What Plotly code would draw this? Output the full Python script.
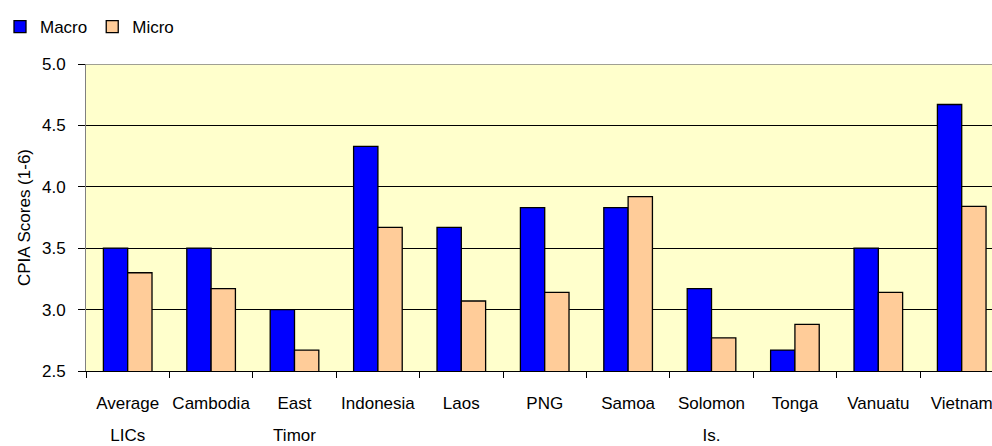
import plotly.graph_objects as go

categories = ["Average<br>LICs", "Cambodia", "East<br>Timor", "Indonesia", "Laos", "PNG",
              "Samoa", "Solomon<br>Is.", "Tonga", "Vanuatu", "Vietnam"]
macro = [3.50, 3.50, 3.00, 4.33, 3.67, 3.83, 3.83, 3.17, 2.67, 3.50, 4.67]
micro = [3.30, 3.17, 2.67, 3.67, 3.07, 3.14, 3.92, 2.77, 2.88, 3.14, 3.84]
y_ticks = [2.5, 3.0, 3.5, 4.0, 4.5, 5.0]

first_lines = [c.split("<br>")[0] for c in categories]
second_lines = [c.split("<br>")[1] if "<br>" in c else "" for c in categories]

FONT = "Arial, 'Liberation Sans', sans-serif"
XRANGE = [-0.5, 10.363]

fig = go.Figure()
fig.add_trace(go.Bar(name="Macro", x=first_lines, y=macro,
                     marker=dict(color="#0000FF", line=dict(color="#000000", width=1.3))))
fig.add_trace(go.Bar(name="Micro", x=first_lines, y=micro,
                     marker=dict(color="#FFCC99", line=dict(color="#000000", width=1.3))))
# empty helper trace so the second-line label axis is drawn
fig.add_trace(go.Scatter(x=[None], y=[None], xaxis="x2", yaxis="y", mode="markers",
                         showlegend=False, hoverinfo="skip"))

fig.update_layout(
    width=992, height=446,
    margin=dict(l=86, r=0, t=64, b=75, autoexpand=False),
    paper_bgcolor="white", plot_bgcolor="#FFFFCC",
    barmode="group", bargap=0.417, bargroupgap=0,
    font=dict(family=FONT, size=17, color="#000000"),
    showlegend=True,
    legend=dict(orientation="h", xref="container", yref="container",
                x=0.0, y=1 - 27 / 446, xanchor="left", yanchor="middle",
                font=dict(size=17), bgcolor="rgba(0,0,0,0)", itemwidth=30,
                traceorder="normal"),
    xaxis=dict(
        type="category", range=XRANGE,
        showline=True, linecolor="#000000", linewidth=1,
        ticks="outside", tickson="boundaries", ticklen=6, tickcolor="#000000",
        showgrid=False, tickfont=dict(size=17), tickangle=0, ticklabelstandoff=17,
        automargin=False,
    ),
    xaxis2=dict(overlaying="x", anchor="y", side="bottom", type="linear",
                range=XRANGE, tickmode="array",
                tickvals=list(range(len(second_lines))), ticktext=second_lines,
                showline=False, showgrid=False, zeroline=False, ticks="",
                tickfont=dict(size=17), tickangle=0, ticklabelstandoff=52,
                automargin=False),
    yaxis=dict(
        range=[2.5, 5.0], tickvals=y_ticks, tickformat=".1f",
        showline=True, linecolor="#808080", linewidth=1,
        ticks="outside", ticklen=7, tickcolor="#000000",
        showgrid=True, gridcolor="#000000", gridwidth=1,
        zeroline=False, tickfont=dict(size=17), automargin=False,
        ticklabelstandoff=9,
        title=dict(text="CPIA Scores (1-6)", font=dict(size=17), standoff=7),
    ),
)
fig.add_shape(type="line", xref="paper", yref="y", x0=0, x1=1, y0=5.0, y1=5.0,
              line=dict(color="#808080", width=1.5))

fig.write_html("out.html",
               config={"displayModeBar": False},
               post_script="document.body.style.margin='0';"
                           "document.documentElement.style.overflow='hidden';")
